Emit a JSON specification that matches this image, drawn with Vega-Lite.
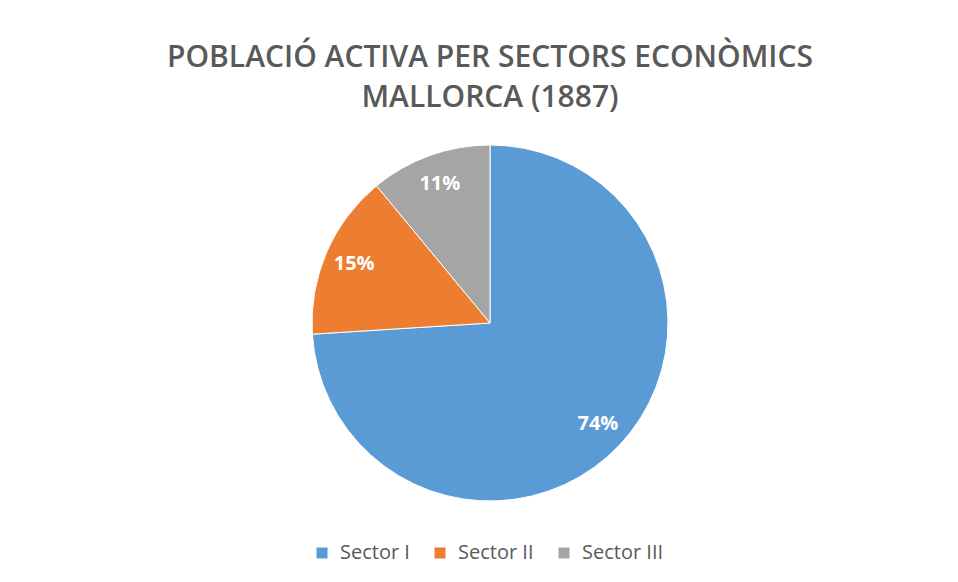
{
  "$schema": "https://vega.github.io/schema/vega-lite/v6.json",
  "autosize": "none",
  "width": 356,
  "height": 356,
  "padding": {"left": 312, "top": 145, "right": 290, "bottom": 81},
  "background": "white",
  "config": {"view": {"stroke": null}},
  "title": {
    "text": ["POBLACIÓ ACTIVA PER SECTORS ECONÒMICS", "MALLORCA (1887)"],
    "font": "Open Sans",
    "fontSize": 30,
    "fontWeight": 600,
    "color": "#595959",
    "lineHeight": 40,
    "anchor": "middle",
    "offset": 30
  },
  "data": {
    "values": [
      {"sector": "Sector I", "value": 74, "label": "74%", "ord": 1},
      {"sector": "Sector II", "value": 15, "label": "15%", "ord": 2},
      {"sector": "Sector III", "value": 11, "label": "11%", "ord": 3}
    ]
  },
  "encoding": {
    "theta": {"field": "value", "type": "quantitative", "stack": true},
    "order": {"field": "ord", "type": "quantitative"},
    "color": {
      "field": "sector",
      "type": "nominal",
      "scale": {"domain": ["Sector I", "Sector II", "Sector III"], "range": ["#5B9BD5", "#ED7D31", "#A5A5A5"]},
      "legend": {
        "orient": "bottom",
        "direction": "horizontal",
        "title": null,
        "symbolType": "square",
        "symbolSize": 121,
        "symbolStrokeWidth": 0,
        "labelFont": "Open Sans",
        "labelFontSize": 20,
        "labelColor": "#595959",
        "labelOffset": 8,
        "columnPadding": 20,
        "offset": 42
      }
    }
  },
  "layer": [
    {
      "mark": {"type": "arc", "radius": 178, "stroke": "white", "strokeWidth": 1}
    },
    {
      "mark": {"type": "text", "radius": 148, "font": "Open Sans", "fontSize": 20, "fontWeight": "bold", "fill": "white"},
      "encoding": {"text": {"field": "label", "type": "nominal"}, "color": {"value": "white"}}
    }
  ]
}
